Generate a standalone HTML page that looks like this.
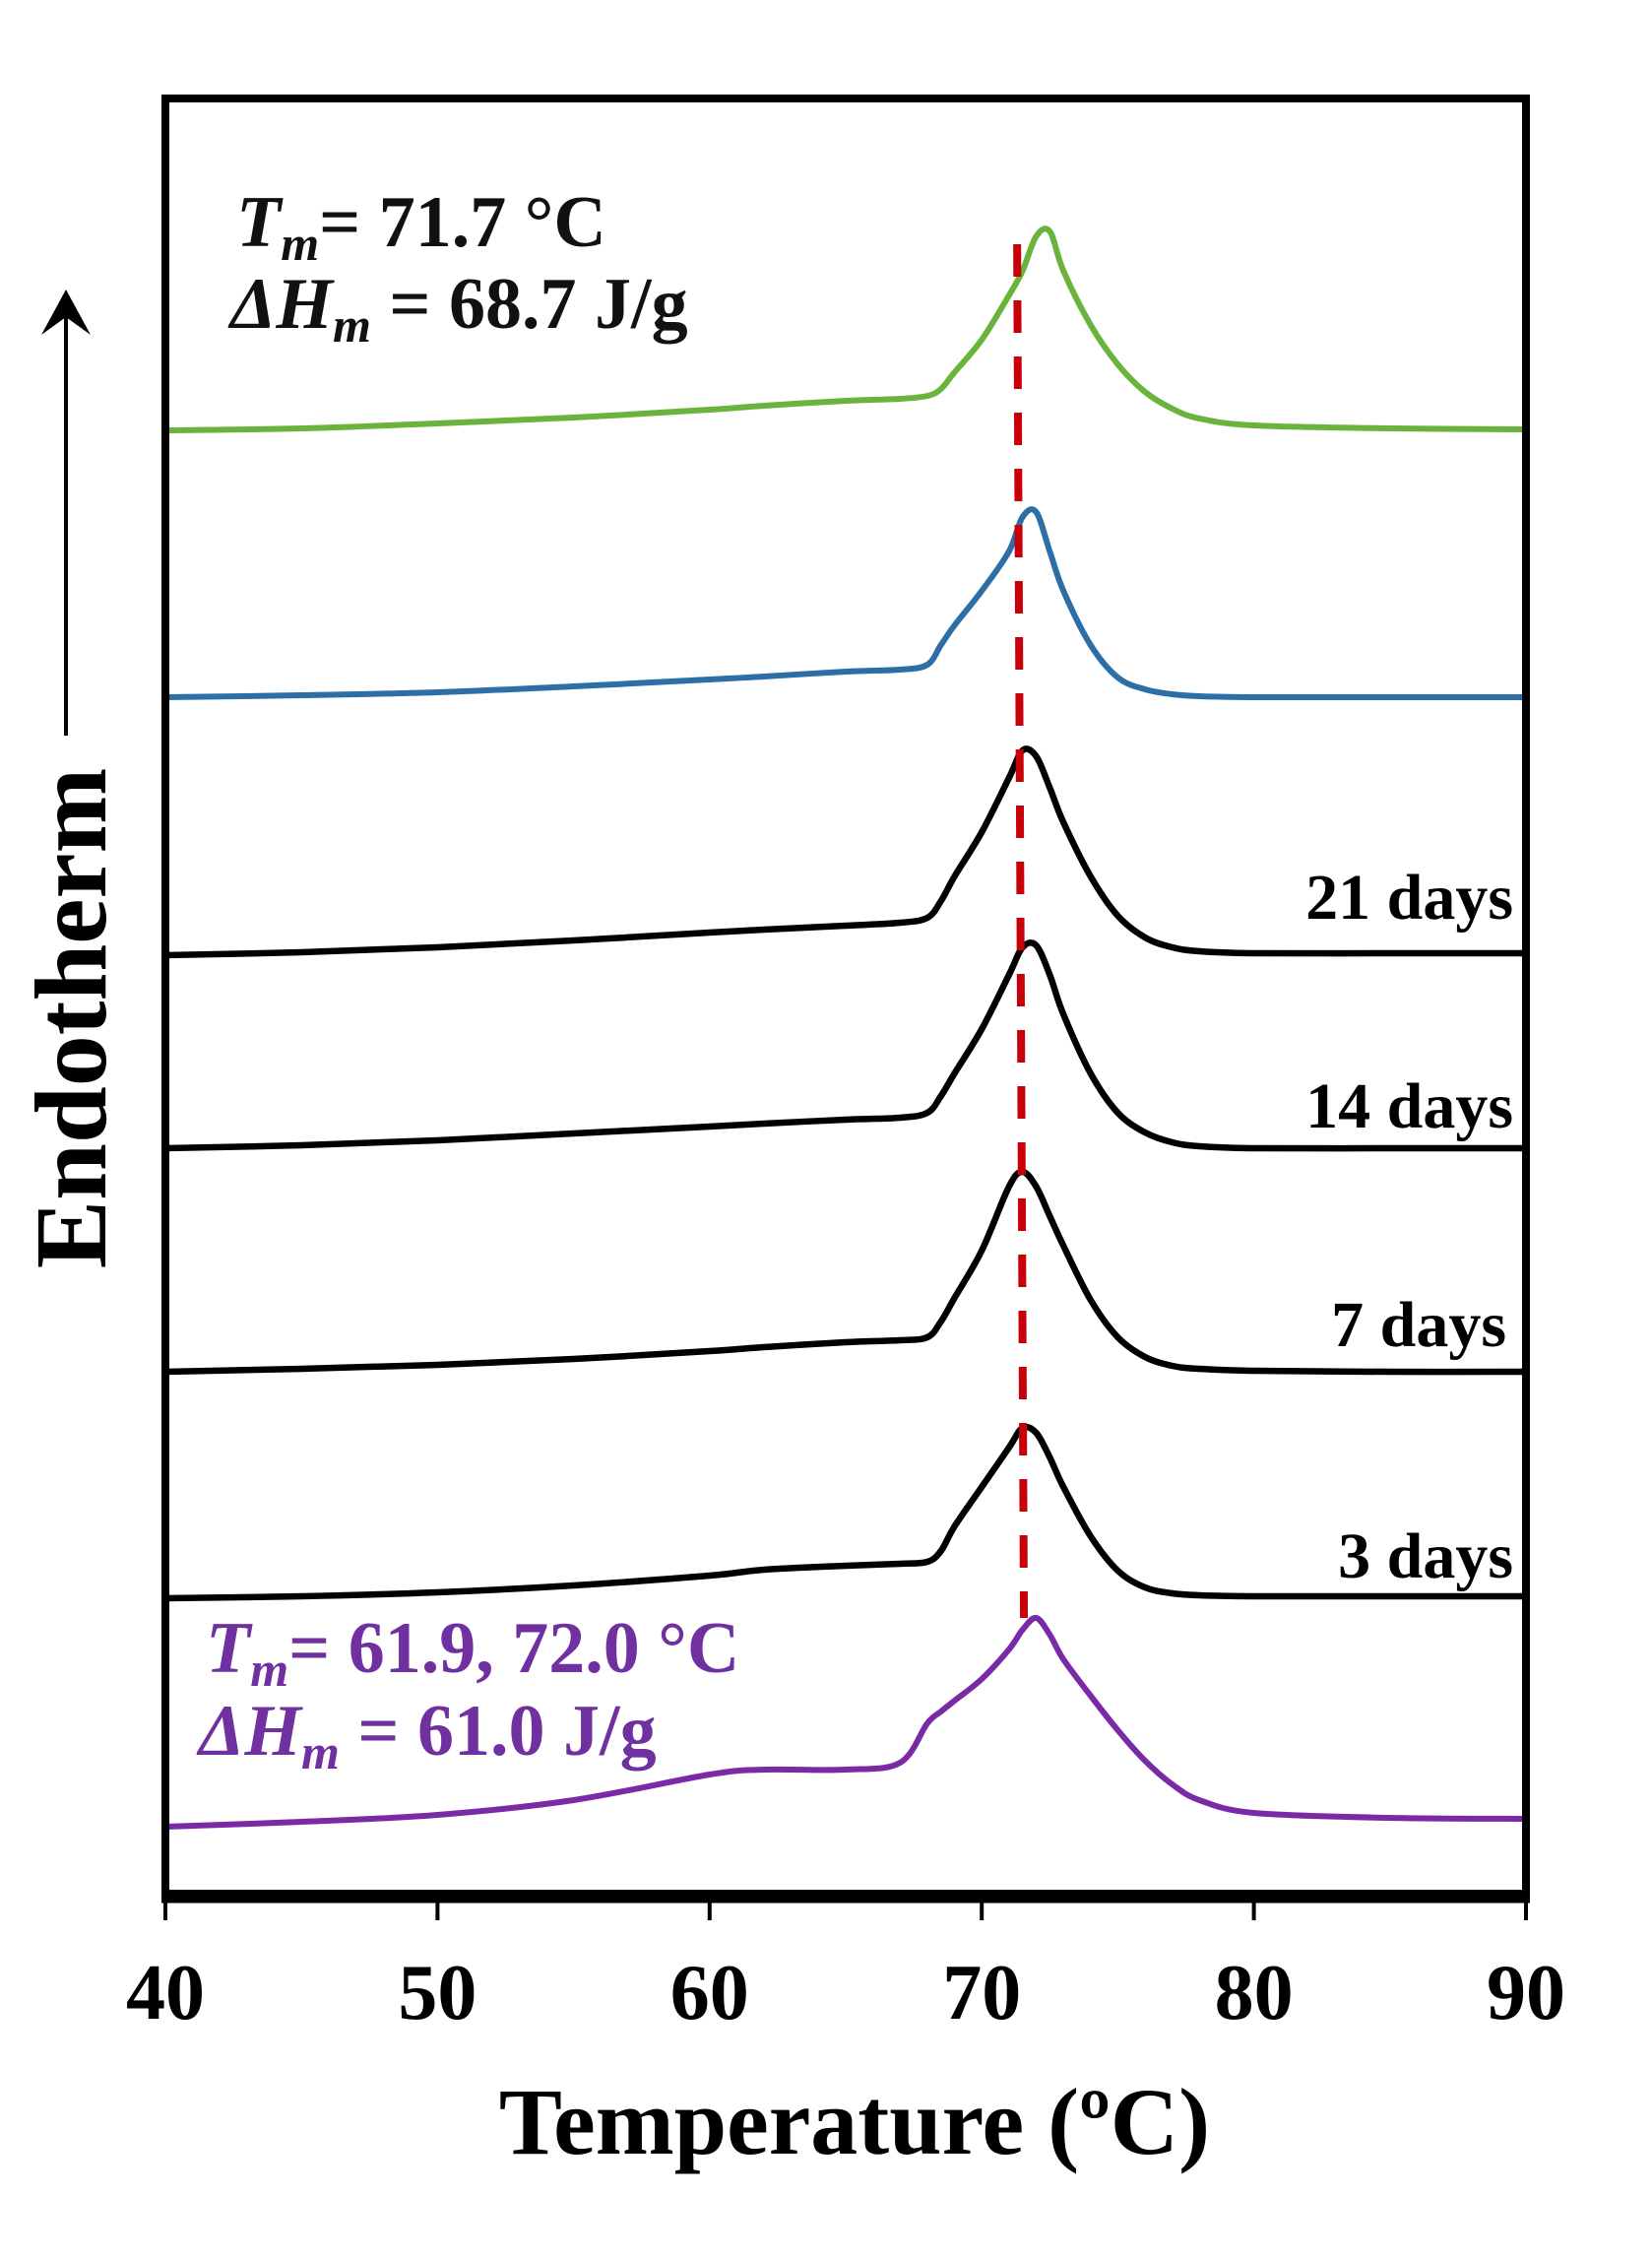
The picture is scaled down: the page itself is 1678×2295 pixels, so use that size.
<!DOCTYPE html>
<html><head><meta charset="utf-8"><style>
html,body{margin:0;padding:0;background:#fff;}
svg{display:block;}
text{font-family:"Liberation Serif","Times New Roman",serif;font-weight:bold;}
</style></head><body>
<svg id="chart" width="1678" height="2295" viewBox="0 0 1678 2295" xmlns="http://www.w3.org/2000/svg">
<g id="curves"></g>
<g id="frame"></g>
<g id="xaxis"></g>
<text x="868" y="2187" font-size="96" text-anchor="middle">Temperature (ºC)</text>
<text transform="translate(107,1034) rotate(-90)" font-size="104" text-anchor="middle">Endotherm</text>
<g>
<line x1="67" y1="747" x2="67" y2="305" stroke="#000" stroke-width="4"/>
<polygon points="67,294 42,340 67,322 92,340" fill="#000"/>
</g>
<text x="240" y="250" font-size="74" fill="#111"><tspan font-style="italic">T</tspan><tspan font-style="italic" font-size="50" dy="14">m</tspan><tspan dy="-14">= 71.7 °C</tspan></text>
<text x="234" y="333" font-size="74" fill="#111"><tspan font-style="italic">ΔH</tspan><tspan font-style="italic" font-size="50" dy="14">m</tspan><tspan dy="-14"> = 68.7 J/g</tspan></text>
<text x="209" y="1698" font-size="74" fill="#7030a0"><tspan font-style="italic">T</tspan><tspan font-style="italic" font-size="50" dy="14">m</tspan><tspan dy="-14">= 61.9, 72.0 °C</tspan></text>
<text x="202" y="1782" font-size="74" fill="#7030a0"><tspan font-style="italic">ΔH</tspan><tspan font-style="italic" font-size="50" dy="14">m</tspan><tspan dy="-14"> = 61.0 J/g</tspan></text>
<text x="1537" y="933" font-size="66" text-anchor="end">21 days</text>
<text x="1537" y="1145" font-size="66" text-anchor="end">14 days</text>
<text x="1530" y="1367" font-size="66" text-anchor="end">7 days</text>
<text x="1537" y="1602" font-size="66" text-anchor="end">3 days</text>
</svg>
<script>
const temps = [40,45,50,55,60,62,65,67,68,68.5,69,70,71,71.5,72,72.5,73,74,75,76,77,78,80,85,90];
const greenVals = [148.6,148.8,149.3,149.9,150.7,151.1,151.6,151.8,152.1,152.8,154.5,157.8,162.3,164.8,168.3,168.8,164.8,159.3,155.3,152.5,150.8,149.8,149.1,148.8,148.7];
const blueVals = [121.5,121.7,122.0,122.6,123.3,123.6,124.1,124.3,124.8,126.8,128.8,132.3,136.3,139.8,140.3,136.3,132.3,126.8,123.5,122.3,121.8,121.6,121.5,121.5,121.5];
const day21Vals = [95.3,95.6,96.1,96.8,97.6,97.9,98.3,98.6,99.1,100.8,103.3,107.8,113.3,116.1,115.5,112.3,108.8,103.3,99.3,97.1,96.1,95.7,95.5,95.5,95.5];
const day14Vals = [75.7,76.0,76.5,77.2,77.9,78.2,78.6,78.8,79.3,81.0,83.3,87.8,93.3,96.1,96.3,93.3,89.3,83.3,79.3,77.3,76.3,75.9,75.7,75.7,75.7];
const day7Vals = [53.0,53.3,53.7,54.3,55.1,55.5,56.0,56.2,56.5,58.1,60.5,65.3,71.8,73.3,71.8,68.8,65.8,60.3,56.5,54.5,53.6,53.3,53.1,53.0,53.0];
const day3Vals = [30.0,30.2,30.6,31.3,32.3,32.9,33.3,33.5,33.7,34.8,37.3,41.3,45.3,47.3,46.8,44.3,41.3,36.3,32.8,31.1,30.5,30.3,30.2,30.2,30.2];
const purpleVals = [6.8,7.3,8.0,9.5,12.1,12.6,12.6,13.3,17.3,18.5,19.6,21.8,24.8,26.8,28.0,26.3,23.8,20.1,16.6,13.5,11.1,9.5,8.2,7.7,7.6];
const xTicks = [40,50,60,70,80,90];
const tmLineT = [71.3,71.55];
const tmLineV = [167.5,28.0];

const NS="http://www.w3.org/2000/svg";
const X0=168,X1=1550,Y0=100,Y1=1923;
function xs(t){return X0+(t-40)/(90-40)*(X1-X0);}
function ys(v){return Y1-v*10;}
function path(vals){
  const p=temps.map((t,i)=>[xs(t),ys(vals[i])]);
  let d="M"+p[0][0]+","+p[0][1];
  for(let i=0;i<p.length-1;i++){
    const a=p[Math.max(i-1,0)],b=p[i],c=p[i+1],e=p[Math.min(i+2,p.length-1)];
    const k=1/6;
    d+=" C"+(b[0]+(c[0]-a[0])*k)+","+(b[1]+(c[1]-a[1])*k)+" "+(c[0]-(e[0]-b[0])*k)+","+(c[1]-(e[1]-b[1])*k)+" "+c[0]+","+c[1];
  }
  return d;
}
const cg=document.getElementById('curves');
const series=[["curve-green",greenVals,"#6ab43e",6],["curve-blue",blueVals,"#2e6ea6",6],["curve-21-days",day21Vals,"#000",6.5],["curve-14-days",day14Vals,"#000",6.5],["curve-7-days",day7Vals,"#000",6.5],["curve-3-days",day3Vals,"#000",6.5],["curve-purple",purpleVals,"#7a2aa6",6]];
series.forEach(s=>{
  const el=document.createElementNS(NS,'path');
  
  
  el.setAttribute('d',path(s[1]));
  el.setAttribute('fill','none');el.setAttribute('stroke',s[2]);el.setAttribute('stroke-width',s[3]);
  el.setAttribute('stroke-linejoin','round');
  cg.appendChild(el);
});
const dl=document.createElementNS(NS,'line');


dl.setAttribute('x1',xs(tmLineT[0]));dl.setAttribute('y1',ys(tmLineV[0]));
dl.setAttribute('x2',xs(tmLineT[1]));dl.setAttribute('y2',ys(tmLineV[1]));
dl.setAttribute('stroke','#c8000a');dl.setAttribute('stroke-width','8');dl.setAttribute('stroke-dasharray','33 24');
cg.appendChild(dl);

const fr=document.getElementById('frame');
const rect=document.createElementNS(NS,'rect');


rect.setAttribute('x',X0);rect.setAttribute('y',Y0);rect.setAttribute('width',X1-X0);rect.setAttribute('height',Y1-Y0);
rect.setAttribute('fill','none');rect.setAttribute('stroke','#000');rect.setAttribute('stroke-width','8');
fr.appendChild(rect);
const bl=document.createElementNS(NS,'line');


bl.setAttribute('x1',X0-4);bl.setAttribute('x2',X1+4);bl.setAttribute('y1',Y1+3);bl.setAttribute('y2',Y1+3);
bl.setAttribute('stroke','#000');bl.setAttribute('stroke-width','13');
fr.appendChild(bl);

const xa=document.getElementById('xaxis');
xTicks.forEach(t=>{
  const tk=document.createElementNS(NS,'line');
  
  
  tk.setAttribute('x1',xs(t));tk.setAttribute('x2',xs(t));tk.setAttribute('y1',Y1);tk.setAttribute('y2',Y1+27);
  tk.setAttribute('stroke','#000');tk.setAttribute('stroke-width','4');
  xa.appendChild(tk);
  const lb=document.createElementNS(NS,'text');
  
  
  lb.setAttribute('x',xs(t));lb.setAttribute('y',2050);lb.setAttribute('font-size','80');lb.setAttribute('text-anchor','middle');
  lb.textContent=t;
  xa.appendChild(lb);
});
</script>
</body></html>
